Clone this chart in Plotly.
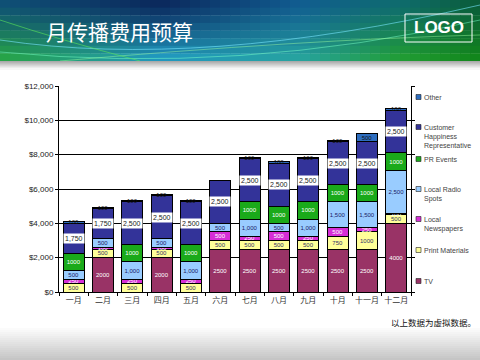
import plotly.graph_objects as go

# ---------------- data ----------------
months = ["一月", "二月", "三月", "四月", "五月", "六月", "七月", "八月", "九月", "十月", "十一月", "十二月"]
tv = [0, 2000, 0, 2000, 0, 2500, 2500, 2500, 2500, 2500, 2500, 4000]
print_materials = [500, 500, 500, 500, 500, 500, 500, 500, 500, 750, 1000, 500]
local_newspapers = [250, 100, 250, 100, 250, 500, 250, 500, 250, 500, 250, 100]
local_radio = [500, 500, 1000, 500, 1000, 500, 1000, 500, 1000, 1500, 1500, 2500]
pr_events = [1000, 0, 1000, 0, 1000, 0, 1000, 1000, 1000, 1000, 1000, 1000]
customer_rep = [1750, 1750, 2500, 2500, 2500, 2500, 2500, 2500, 2500, 2500, 2500, 2500]
other = [100, 100, 100, 100, 100, 0, 100, 100, 100, 100, 500, 100]

series_names = ["TV", "Print Materials", "Local Newspapers", "Local Radio Spots",
                "PR Events", "Customer Happiness Representative", "Other"]
legend_labels = ["TV", "Print Materials", "Local<br>Newspapers", "Local Radio<br>Spots",
                 "PR Events", "Customer<br>Happiness<br>Representative", "Other"]
series_values = [tv, print_materials, local_newspapers, local_radio, pr_events, customer_rep, other]
series_colors = ["#993366", "#FFFF99", "#D62ED6", "#99CCFF", "#1AAA1A", "#333399", "#2E6EBF"]
text_colors = ["white", "#333366", "white", "#1a1a66", "white", "#222222", "#111111"]

W, H = 480, 360
def px(x):
    return x / W
def py(y):
    return 1 - y / H

fig = go.Figure()

# ---------------- bars ----------------
for i, (name, vals, col, tcol) in enumerate(zip(series_names, series_values, series_colors, text_colors)):
    if name == "Customer Happiness Representative":
        txt = ["" for v in vals]
    elif name == "Local Radio Spots":
        txt = [f"{v:,}" if v else "" for v in vals]
    else:
        txt = [str(v) if v else "" for v in vals]
    fig.add_trace(go.Bar(
        x=months, y=vals, name=name, marker=dict(color=col, line=dict(color="black", width=1)),
        text=txt, textposition="inside", insidetextanchor="middle", textangle=0,
        textfont=dict(size=6, color=tcol, family="Liberation Sans, Arial"),
        showlegend=False, hoverinfo="x+y+name",
    ))

annotations = []
shapes = []

# CHR labels in white boxes
for j, m in enumerate(months):
    base = tv[j] + print_materials[j] + local_newspapers[j] + local_radio[j] + pr_events[j]
    annotations.append(dict(
        x=m, y=base + customer_rep[j] / 2, xref="x", yref="y",
        text=f"{customer_rep[j]:,}", showarrow=False,
        font=dict(size=7, color="#222222", family="Liberation Sans, Arial"),
        bgcolor="white", borderpad=1,
    ))

# ---------------- banner ----------------
def hex2rgb(h):
    h = h.lstrip("#")
    return [int(h[k:k + 2], 16) for k in (0, 2, 4)]
def mix(a, b, t):
    return [a[k] + (b[k] - a[k]) * t for k in range(3)]
def rgb(c):
    return "rgb(%d,%d,%d)" % tuple(int(round(v)) for v in c)

top_stops = [(0, "#0e4e78"), (160, "#0a2458"), (300, "#105a90"), (400, "#0e6a70"), (480, "#0a5a38")]
bot_stops = [(0, "#28aa40"), (160, "#22a0c8"), (300, "#28a8a0"), (400, "#22a030"), (480, "#128818")]
def stop_color(stops, x):
    for (x0, c0), (x1, c1) in zip(stops[:-1], stops[1:]):
        if x0 <= x <= x1:
            return mix(hex2rgb(c0), hex2rgb(c1), (x - x0) / (x1 - x0))
    return hex2rgb(stops[-1][1])

ncol, nrow = 48, 8
bh = 61
for ci in range(ncol):
    x0 = ci * W / ncol
    x1 = (ci + 1) * W / ncol
    xc = (x0 + x1) / 2
    ct = stop_color(top_stops, xc)
    cb = stop_color(bot_stops, xc)
    for ri in range(nrow):
        y0 = ri * bh / nrow
        y1 = (ri + 1) * bh / nrow
        t = ((y0 + y1) / 2) / bh
        t = t ** 1.2
        shapes.append(dict(type="rect", xref="paper", yref="paper",
                           x0=px(x0), x1=px(x1) + 0.001, y0=py(y1) - 0.001, y1=py(y0),
                           fillcolor=rgb(mix(ct, cb, t)), line=dict(width=0), layer="below"))
# light streaks
def path_px(pts):
    out = []
    for tok in pts.split():
        if tok in ("M", "Q", "L"):
            out.append(tok)
        else:
            a, b = tok.split(",")
            out.append("%f,%f" % (px(float(a)), py(float(b))))
    return " ".join(out)
for d, col in [("M 0,40 Q 200,70 480,5", "rgba(120,230,255,0.6)"),
               ("M 0,52 Q 240,75 480,20", "rgba(120,255,200,0.5)"),
               ("M 60,61 Q 300,40 480,35", "rgba(160,255,160,0.45)"),
               ("M 0,20 Q 60,40 140,61", "rgba(90,230,90,0.6)")]:
    shapes.append(dict(type="path", xref="paper", yref="paper", layer="below",
                       path=path_px(d), line=dict(color=col, width=1)))
# shadow under banner
for k in range(8):
    g = 170 + k * 11
    shapes.append(dict(type="rect", xref="paper", yref="paper", layer="below",
                       x0=0, x1=1, y0=py(62 + k + 1), y1=py(61 + k),
                       fillcolor="rgb(%d,%d,%d)" % (g, g, g), line=dict(width=0)))
# bottom gray band
for k in range(18):
    y0 = 326 + k * 2
    g = 255 - k * 3.6
    shapes.append(dict(type="rect", xref="paper", yref="paper", layer="below",
                       x0=0, x1=1, y0=py(y0 + 2) - 0.001, y1=py(y0),
                       fillcolor=rgb([g, g, g]), line=dict(width=0)))

# title & logo
annotations.append(dict(x=px(44), y=py(31), xref="paper", yref="paper", xanchor="left", yanchor="middle",
                        text="月传播费用预算", showarrow=False,
                        font=dict(size=21, color="white", family="Noto Sans CJK SC")))
shapes.append(dict(type="rect", xref="paper", yref="paper", x0=px(405), x1=px(472), y0=py(42), y1=py(14),
                   line=dict(color="white", width=1)))
annotations.append(dict(x=px(438.5), y=py(28), xref="paper", yref="paper", xanchor="center", yanchor="middle",
                        text="<b>LOGO</b>", showarrow=False,
                        font=dict(size=17, color="white", family="Liberation Sans, Arial")))

# footer
annotations.append(dict(x=px(478), y=py(322), xref="paper", yref="paper", xanchor="right", yanchor="middle",
                        text="以上数据为虚拟数据。", showarrow=False,
                        font=dict(size=8.5, color="#111111", family="Noto Sans CJK SC")))

# ---------------- manual legend ----------------
legend_y = [281, 250, 219, 189, 159, 127, 97]
for lab, col, yy in zip(legend_labels, series_colors, legend_y):
    shapes.append(dict(type="rect", xref="paper", yref="paper",
                       x0=px(416), x1=px(421), y0=py(yy + 2.5), y1=py(yy - 2.5),
                       fillcolor=col, line=dict(color="#222222", width=0.6)))
    annotations.append(dict(x=px(422), y=py(yy - 5), xref="paper", yref="paper",
                            xanchor="left", yanchor="top", align="left", text=lab, showarrow=False,
                            font=dict(size=7, color="#444444", family="Liberation Sans, Arial")))

fig.update_layout(
    width=W, height=H,
    margin=dict(l=0, r=0, t=0, b=0, autoexpand=False),
    paper_bgcolor="white", plot_bgcolor="white",
    barmode="stack", bargap=0.28,
    uniformtext=dict(minsize=6, mode="show"),
    showlegend=False,
    xaxis=dict(domain=[px(59), px(411)], showline=True, linecolor="black", linewidth=1,
               ticks="outside", tickson="boundaries", ticklen=3, tickcolor="black",
               tickangle=0, automargin=False,
               tickfont=dict(size=8, color="#333333", family="Noto Sans CJK SC"),
               fixedrange=True),
    yaxis=dict(domain=[py(292), py(86)], range=[0, 12000], dtick=2000,
               tickprefix="$", tickformat=",", showgrid=True, gridcolor="black", gridwidth=1,
               showline=True, linecolor="black", linewidth=1, mirror="ticks",
               ticks="outside", ticklen=3, tickcolor="black", automargin=False,
               tickfont=dict(size=8, color="#222222", family="Liberation Sans, Arial"),
               zeroline=False, fixedrange=True),
    annotations=annotations,
    shapes=shapes,
)

fig.write_html("out.html", config={"displayModeBar": False},
               post_script="document.body.style.margin='0';document.body.style.overflow='hidden';")
